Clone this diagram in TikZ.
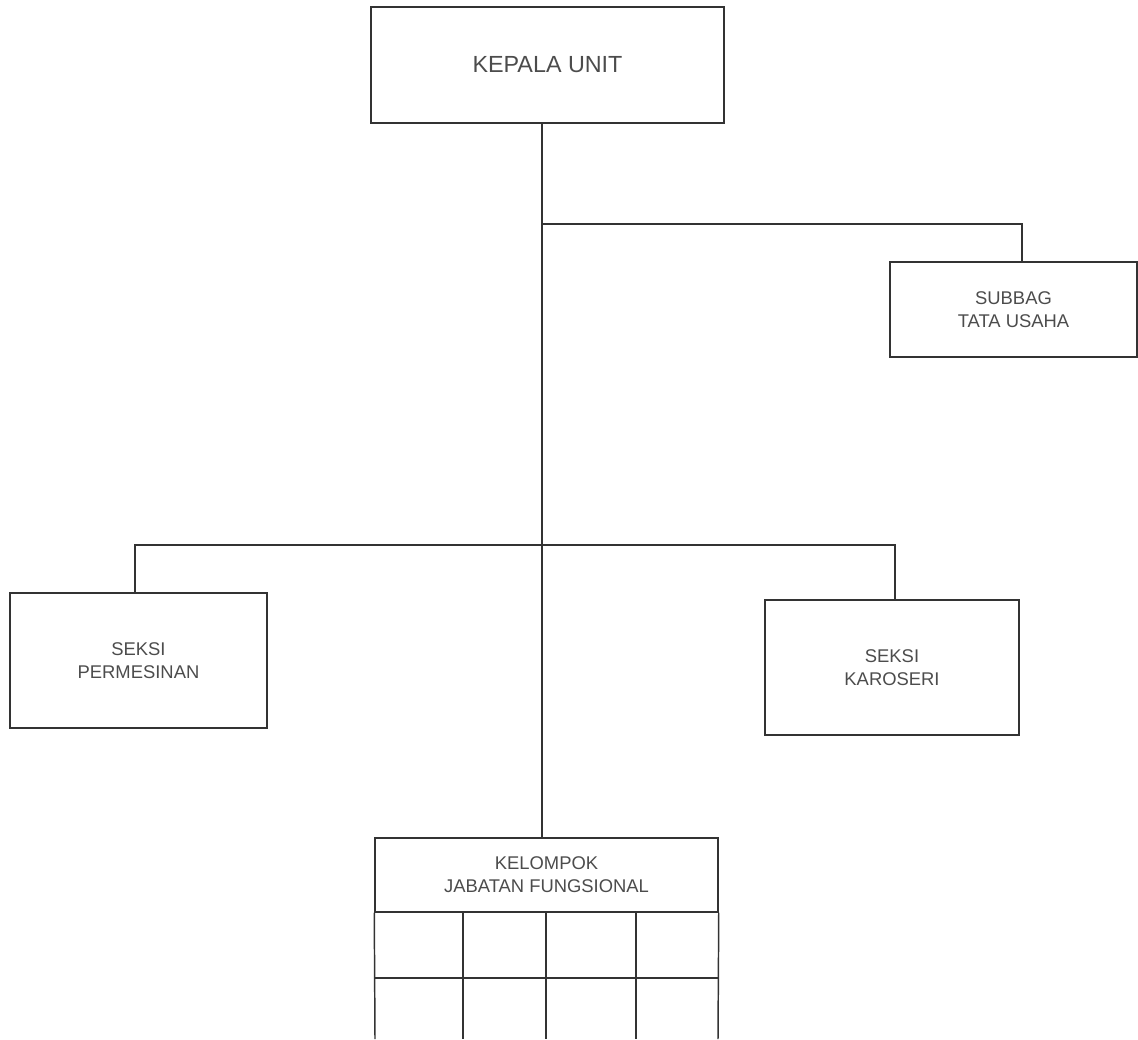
\documentclass[tikz,border=0pt]{standalone}
\usepackage{fontspec}
\setmainfont{Liberation Sans}
\begin{document}
\begin{tikzpicture}[x=0.75pt,y=-0.75pt,
  line/.style={draw=black!80,line width=1.1pt},
  orgbox/.style={line,rectangle,inner sep=0pt,align=center,text=black!70,
     font=\fontsize{13.8}{17.3}\selectfont},
  bigbox/.style={orgbox,font=\fontsize{17.5}{21}\selectfont}]
\useasboundingbox (0,0) rectangle (1138,1039);
% boxes
\node[bigbox,minimum width=353*0.75pt,minimum height=116*0.75pt] (kepala) at (547.5,65) {KEPALA UNIT};
\node[orgbox,minimum width=247*0.75pt,minimum height=95*0.75pt] (subbag) at (1013.5,309.5) {SUBBAG\\TATA USAHA};
\node[orgbox,minimum width=257*0.75pt,minimum height=135*0.75pt] (permesinan) at (138.5,660.5) {SEKSI\\PERMESINAN};
\node[orgbox,minimum width=254*0.75pt,minimum height=135*0.75pt] (karoseri) at (892,667.5) {SEKSI\\KAROSERI};
\node[orgbox,minimum width=343*0.75pt,minimum height=74*0.75pt] (kelompok) at (546.5,875) {KELOMPOK\\JABATAN FUNGSIONAL};
% grid under kelompok
\coordinate (g0) at (375,1039);
\coordinate (g1) at (463,1039);
\coordinate (g2) at (546,1039);
\coordinate (g3) at (636,1039);
\coordinate (g4) at (718,1039);
\coordinate (grow) at (0,978);
\draw[line] (kelompok.south west) -- (g0);
\draw[line] (kelompok.south east) -- (g4);
\draw[line] (kelompok.south -| g1) -- (g1);
\draw[line] (kelompok.south -| g2) -- (g2);
\draw[line] (kelompok.south -| g3) -- (g3);
\draw[line] (grow -| g0) -- (grow -| g4);
% connectors
\coordinate (trunk) at (542,0);
\coordinate (j1) at (542,224);
\coordinate (j1r) at (1022,224);
\coordinate (j2l) at (135,545);
\coordinate (j2r) at (895,545);
\draw[line] (kepala.south -| trunk) -- (kelompok.north -| trunk);
\draw[line] (j1) -- (j1r) -- (j1r |- subbag.north);
\draw[line] (permesinan.north -| j2l) -- (j2l) -- (j2r) -- (j2r |- karoseri.north);
\end{tikzpicture}
\end{document}
